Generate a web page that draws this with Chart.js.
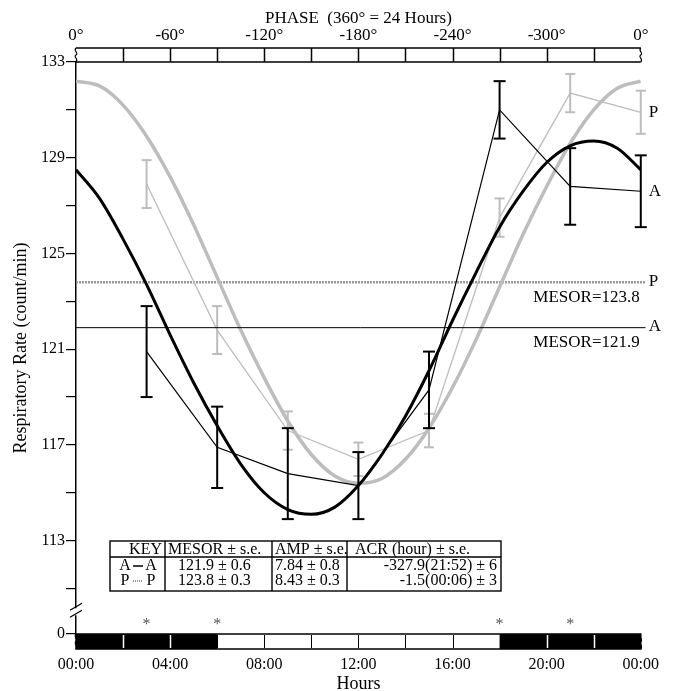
<!DOCTYPE html>
<html>
<head>
<meta charset="utf-8">
<script src="https://cdn.jsdelivr.net/npm/chart.js@4.4.0/dist/chart.umd.min.js"></script>
<style>
  html, body { margin: 0; padding: 0; background: #fff; }
  #wrap { width: 680px; height: 691px; }
</style>
</head>
<body>
<div id="wrap"><canvas id="chart" width="680" height="691"></canvas></div>
<script>
// sampling times (hours) and means / s.e.
const sampleHours = [3, 6, 9, 12, 15, 18, 21, 24];
const meanA = [120.9, 116.9, 115.8, 115.3, 119.3, 131.0, 127.8, 127.6];
const errA  = [1.9, 1.7, 1.9, 1.4, 1.6, 1.2, 1.6, 1.5];
const meanP = [127.9, 121.8, 117.6, 116.4, 117.6, 126.5, 131.7, 130.9];
const errP  = [1.0, 1.0, 0.8, 0.7, 0.7, 0.8, 0.8, 0.9];

// fitted cosine curves, read hour by hour
const curveHours = [0, 1, 2, 3, 4, 5, 6, 7, 8, 9, 10, 11, 12, 13, 14, 15, 16, 17, 18, 19, 20, 21, 22, 23, 24];
const curveA = [128.5, 127.3, 125.6, 123.7, 121.6, 119.6, 117.8, 116.2, 115.0, 114.3, 114.1, 114.4, 115.3,
                116.6, 118.2, 120.1, 122.2, 124.2, 126.1, 127.6, 128.8, 129.5, 129.7, 129.4, 128.5];
const curveP = [132.2, 132.0, 131.2, 129.9, 128.2, 126.2, 124.0, 121.8, 119.8, 118.0, 116.6, 115.7, 115.4,
                115.6, 116.4, 117.7, 119.4, 121.4, 123.6, 125.8, 127.8, 129.6, 131.0, 131.9, 132.2];

const mesorA = 121.9;
const mesorP = 123.8;

// axes
const yTicks = [109.1, 111, 113, 115, 117, 119, 121, 123, 125, 127, 129, 131, 133];
const yTickLabels = ['0', '', '113', '', '117', '', '121', '', '125', '', '129', '', '133'];
const hourTicks = [0, 4, 8, 12, 16, 20, 24];
const hourLabels = ['00:00', '04:00', '08:00', '12:00', '16:00', '20:00', '00:00'];
const phaseLabels = ['0°', '-60°', '-120°', '-180°', '-240°', '-300°', '0°'];
const phaseDivs = [0, 2, 4, 6, 8, 10, 12, 14, 16, 18, 20, 22, 24];
const darkSpans = [[0, 6], [18, 24]];
const starHours = [3, 6, 18, 21];

// key table
const tableHeader = ['KEY', 'MESOR ± s.e.', 'AMP ± s.e.', 'ACR (hour) ± s.e.'];
const rowA = ['A', '121.9 ± 0.6', '7.84 ± 0.8', '-327.9(21:52) ± 6'];
const rowP = ['P', '123.8 ± 0.3', '8.43 ± 0.3', '-1.5(00:06) ± 3'];

const FONT = "'Liberation Serif', 'Times New Roman', serif";
const GRAY = '#bdbdbd';

function errorBarPoints(means, errs) {
  const pts = [];
  sampleHours.forEach((h, i) => {
    pts.push({ x: h, y: means[i] - errs[i] });
    pts.push({ x: h, y: means[i] + errs[i] });
    pts.push({ x: h, y: null });
  });
  return pts;
}

function squiggle(ctx, x, y0, y1) {
  const m = (y0 + y1) / 2;
  ctx.beginPath();
  ctx.moveTo(x, y0);
  ctx.bezierCurveTo(x - 3, y0 + 3, x + 3, m - 2, x, m);
  ctx.bezierCurveTo(x - 3, m + 2, x + 3, y1 - 3, x, y1);
  ctx.stroke();
}

const decor = {
  id: 'decor',
  afterDraw(chart) {
    const { ctx, scales: { x, y }, chartArea } = chart;
    const top = chartArea.top, bottom = chartArea.bottom;
    ctx.save();

    // phase band on top
    const bandTop = top - 14;
    ctx.strokeStyle = '#000';
    ctx.lineWidth = 1.5;
    ctx.beginPath();
    ctx.moveTo(x.left, bandTop); ctx.lineTo(x.right, bandTop);
    ctx.moveTo(x.left, top); ctx.lineTo(x.right, top);
    phaseDivs.slice(1, -1).forEach(h => {
      const px = Math.round(x.getPixelForValue(h)) + 0.5;
      ctx.moveTo(px, bandTop); ctx.lineTo(px, top);
    });
    ctx.stroke();
    ctx.lineWidth = 1.2;
    squiggle(ctx, x.left, bandTop, top);
    squiggle(ctx, x.right, bandTop, top);

    // light/dark bar at bottom
    const barTop = bottom, barBot = bottom + 15;
    ctx.fillStyle = '#000';
    darkSpans.forEach(([a, b]) => {
      const x0 = x.getPixelForValue(a), x1 = x.getPixelForValue(b);
      ctx.fillRect(x0, barTop, x1 - x0, barBot - barTop);
    });
    ctx.lineWidth = 1.5;
    ctx.strokeRect(x.left, barTop, x.right - x.left, barBot - barTop);
    phaseDivs.slice(1, -1).forEach(h => {
      const dark = darkSpans.some(([a, b]) => h > a && h < b);
      const px = Math.round(x.getPixelForValue(h)) + 0.5;
      ctx.strokeStyle = dark ? '#fff' : '#000';
      ctx.lineWidth = dark ? 1.5 : 1;
      ctx.beginPath();
      ctx.moveTo(px, barTop + 1); ctx.lineTo(px, barBot - 1);
      ctx.stroke();
    });
    ctx.strokeStyle = '#000';
    ctx.lineWidth = 1.2;
    squiggle(ctx, x.left, barTop, barBot);
    squiggle(ctx, x.right, barTop, barBot);

    // stars over the bar
    ctx.fillStyle = '#555';
    ctx.font = `16px ${FONT}`;
    ctx.textAlign = 'center';
    ctx.textBaseline = 'middle';
    starHours.forEach(h => ctx.fillText('*', x.getPixelForValue(h), barTop - 9));

    // y axis break
    const by = (y.getPixelForValue(yTicks[1]) + y.bottom) / 2 + 1;
    ctx.fillStyle = '#fff';
    ctx.fillRect(x.left - 2, by - 4, 4, 7);
    ctx.strokeStyle = '#000';
    ctx.lineWidth = 1.3;
    ctx.beginPath();
    ctx.moveTo(x.left - 6, by - 2); ctx.lineTo(x.left + 6, by - 9);
    ctx.moveTo(x.left - 6, by + 5); ctx.lineTo(x.left + 6, by - 2);
    ctx.stroke();

    // curve and mesor labels
    const xr = x.getPixelForValue(24);
    ctx.fillStyle = '#000';
    ctx.font = `17px ${FONT}`;
    ctx.textAlign = 'left';
    ctx.fillText('P', xr + 8, y.getPixelForValue(meanP[7]));
    ctx.fillText('A', xr + 8, y.getPixelForValue(meanA[7]));
    ctx.fillText('P', xr + 8, y.getPixelForValue(mesorP) - 1);
    ctx.fillText('A', xr + 8, y.getPixelForValue(mesorA) - 1);
    ctx.textAlign = 'right';
    ctx.fillText('MESOR=' + mesorP.toFixed(1), xr - 1, y.getPixelForValue(mesorP) + 15);
    ctx.fillText('MESOR=' + mesorA.toFixed(1), xr - 1, y.getPixelForValue(mesorA) + 15);

    // key table
    const tl = 110, tr = 501, tt = 541, th = 557, tb = 591;
    const cols = [tl, 165, 272, 347, tr];
    ctx.fillStyle = '#fff';
    ctx.fillRect(tl, tt, tr - tl, tb - tt);
    ctx.strokeStyle = '#000';
    ctx.lineWidth = 1.4;
    ctx.strokeRect(tl, tt, tr - tl, tb - tt);
    ctx.beginPath();
    ctx.moveTo(tl, th); ctx.lineTo(tr, th);
    cols.slice(1, -1).forEach(cx => { ctx.moveTo(cx, tt); ctx.lineTo(cx, tb); });
    ctx.stroke();

    ctx.fillStyle = '#000';
    ctx.font = `16px ${FONT}`;
    ctx.textBaseline = 'middle';
    const hy = (tt + th) / 2 + 1;
    ctx.textAlign = 'right';
    ctx.fillText(tableHeader[0], cols[1] - 3, hy);
    ctx.textAlign = 'left';
    ctx.fillText(tableHeader[1], cols[1] + 3, hy);
    ctx.fillText(tableHeader[2], cols[2] + 3, hy);
    ctx.fillText(tableHeader[3], cols[3] + 8, hy);

    const ya = th + 9, yp = th + 24;
    // key symbols
    ctx.textAlign = 'center';
    ctx.fillText(rowA[0], 125, ya);
    ctx.fillText(rowA[0], 151, ya);
    ctx.fillText(rowP[0], 125, yp);
    ctx.fillText(rowP[0], 151, yp);
    ctx.lineWidth = 1.5;
    ctx.beginPath();
    ctx.moveTo(133, ya); ctx.lineTo(143, ya);
    ctx.stroke();
    ctx.strokeStyle = '#999';
    ctx.lineWidth = 2;
    ctx.setLineDash([1, 1]);
    ctx.beginPath();
    ctx.moveTo(133, yp); ctx.lineTo(143, yp);
    ctx.stroke();
    ctx.setLineDash([]);

    ctx.textAlign = 'left';
    ctx.fillText(rowA[1], 178, ya);
    ctx.fillText(rowP[1], 178, yp);
    ctx.fillText(rowA[2], 275, ya);
    ctx.fillText(rowP[2], 275, yp);
    ctx.textAlign = 'right';
    ctx.fillText(rowA[3], tr - 4, ya);
    ctx.fillText(rowP[3], tr - 4, yp);

    ctx.restore();
  }
};

const curvePts = vals => curveHours.map((h, i) => ({ x: h, y: vals[i] }));
const meanPts = vals => sampleHours.map((h, i) => ({ x: h, y: vals[i] }));

new Chart(document.getElementById('chart'), {
  type: 'line',
  data: {
    datasets: [
      { // A error bars
        data: errorBarPoints(meanA, errA),
        borderColor: '#000', borderWidth: 2,
        pointStyle: 'line', pointRadius: 6, pointBorderWidth: 2,
        pointBorderColor: '#000', spanGaps: false, clip: false
      },
      { // A observed
        data: meanPts(meanA),
        borderColor: '#000', borderWidth: 1.2, pointRadius: 0, clip: false
      },
      { // A fitted cosine
        data: curvePts(curveA),
        borderColor: '#000', borderWidth: 3, pointRadius: 0,
        cubicInterpolationMode: 'monotone'
      },
      { // A mesor
        data: [{ x: 0, y: mesorA }, { x: 24.2, y: mesorA }],
        borderColor: '#000', borderWidth: 1, pointRadius: 0, clip: false
      },
      { // P error bars
        data: errorBarPoints(meanP, errP),
        borderColor: GRAY, borderWidth: 2,
        pointStyle: 'line', pointRadius: 5, pointBorderWidth: 2,
        pointBorderColor: GRAY, spanGaps: false, clip: false
      },
      { // P observed
        data: meanPts(meanP),
        borderColor: GRAY, borderWidth: 1.3, pointRadius: 0, clip: false
      },
      { // P fitted cosine
        data: curvePts(curveP),
        borderColor: GRAY, borderWidth: 3.5, pointRadius: 0,
        cubicInterpolationMode: 'monotone'
      },
      { // P mesor
        data: [{ x: 0, y: mesorP }, { x: 24.2, y: mesorP }],
        borderColor: '#9a9a9a', borderWidth: 2.5, borderDash: [2, 1],
        pointRadius: 0, clip: false
      }
    ]
  },
  options: {
    responsive: false,
    animation: false,
    devicePixelRatio: 1,
    layout: { padding: { left: 0, right: 32, top: 0, bottom: 0 } },
    plugins: { legend: { display: false }, tooltip: { enabled: false } },
    scales: {
      x: {
        type: 'linear', position: 'bottom', min: 0, max: 24,
        afterFit: s => { s.height = 57; },
        afterBuildTicks: s => { s.ticks = hourTicks.map(v => ({ value: v })); },
        grid: { display: false, drawTicks: false },
        border: { display: false },
        ticks: {
          autoSkip: false, maxRotation: 0, padding: 21, color: '#000',
          font: { family: FONT, size: 16 },
          callback: (v, i) => hourLabels[i]
        },
        title: {
          display: true, text: 'Hours', color: '#000',
          font: { family: FONT, size: 18, lineHeight: 1 },
          padding: { top: 0, bottom: -2 }
        }
      },
      x2: {
        type: 'linear', position: 'top', min: 0, max: 24,
        afterFit: s => { s.height = 62; },
        afterBuildTicks: s => { s.ticks = hourTicks.map(v => ({ value: v })); },
        grid: { display: false, drawTicks: false },
        border: { display: false },
        ticks: {
          autoSkip: false, maxRotation: 0, padding: 16, color: '#000',
          font: { family: FONT, size: 17 },
          callback: (v, i) => phaseLabels[i]
        },
        title: {
          display: true, text: 'PHASE  (360° = 24 Hours)', color: '#000',
          font: { family: FONT, size: 17, lineHeight: 1 },
          padding: { top: 10, bottom: 0 }
        }
      },
      y: {
        type: 'linear', position: 'left', min: 109.1, max: 133,
        afterFit: s => { s.width = 76; },
        afterBuildTicks: s => { s.ticks = yTicks.map(v => ({ value: v })); },
        grid: { drawOnChartArea: false, color: '#000', lineWidth: 1.2, tickLength: 10 },
        border: { display: true, color: '#000', width: 1.5 },
        ticks: {
          autoSkip: false, padding: 1, color: '#000',
          font: { family: FONT, size: 16 },
          callback: (v, i) => yTickLabels[i]
        },
        title: {
          display: true, text: 'Respiratory Rate (count/min)', color: '#000',
          font: { family: FONT, size: 18, lineHeight: 1 },
          padding: { top: 12, bottom: 0 }
        }
      }
    }
  },
  plugins: [decor]
});
</script>
</body>
</html>
